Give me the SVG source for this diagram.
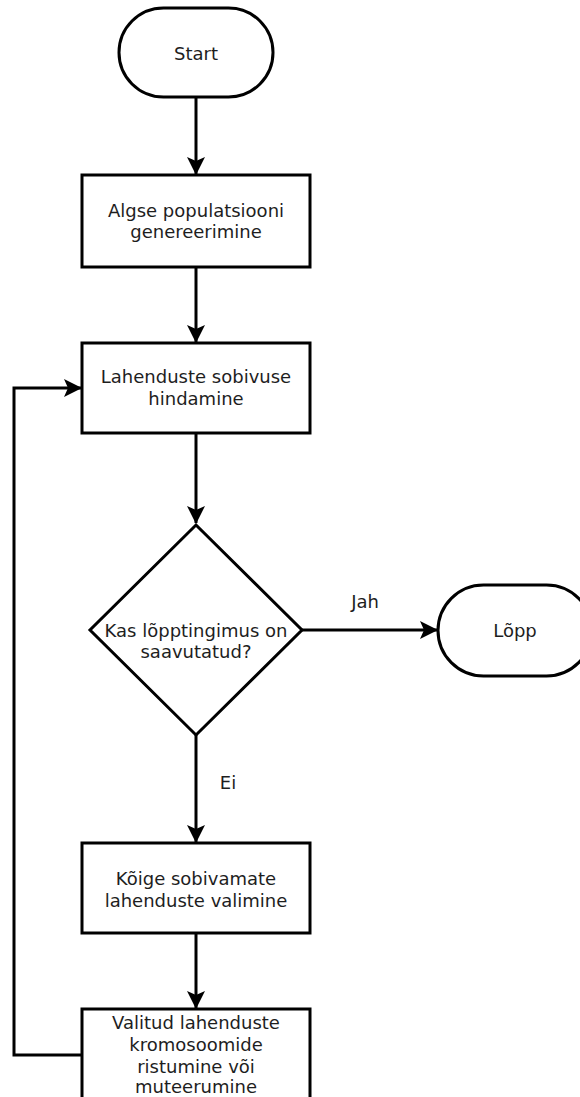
<svg xmlns="http://www.w3.org/2000/svg" width="580" height="1097" viewBox="0 0 580 1097">
  <style>
    .shape { fill: #ffffff; stroke: #000000; stroke-width: 3; }
    .edge { fill: none; stroke: #000000; stroke-width: 3; }
    text { font-family: "DejaVu Sans", Verdana, sans-serif; font-size: 18px; fill: #1e1e1e; text-anchor: middle; }
  </style>
  <defs>
    <marker id="arrow" viewBox="0 0 18 18" refX="17" refY="9" markerWidth="18" markerHeight="18" markerUnits="userSpaceOnUse" orient="auto">
      <path d="M0,0 L18,9 L0,18 L4,9 Z" fill="#000000"/>
    </marker>
  </defs>
  <rect width="580" height="1097" fill="#ffffff"/>

  <g id="connectors">
    <path class="edge" d="M196,97 V174" marker-end="url(#arrow)"/>
    <path class="edge" d="M196,267 V342" marker-end="url(#arrow)"/>
    <path class="edge" d="M196,433 V523" marker-end="url(#arrow)"/>
    <path class="edge" d="M302,630 H437" marker-end="url(#arrow)"/>
    <path class="edge" d="M196,735 V842" marker-end="url(#arrow)"/>
    <path class="edge" d="M196,933 V1008" marker-end="url(#arrow)"/>
    <path class="edge" d="M82,1055 H14 V388 H81" marker-end="url(#arrow)"/>
    <text x="365" y="608">Jah</text>
    <text x="228" y="789">Ei</text>
  </g>

  <g id="start">
    <rect class="shape" x="119" y="8" width="154" height="89" rx="44.5"/>
    <text x="196" y="60">Start</text>
  </g>

  <g id="init">
    <rect class="shape" x="82" y="175" width="228" height="92"/>
    <text x="196" y="217">Algse populatsiooni</text>
    <text x="196" y="238">genereerimine</text>
  </g>

  <g id="fitness">
    <rect class="shape" x="82" y="343" width="228" height="90"/>
    <text x="196" y="383">Lahenduste sobivuse</text>
    <text x="196" y="405">hindamine</text>
  </g>

  <g id="decision">
    <polygon class="shape" points="196,525 302,630 196,735 90,630"/>
    <text x="196" y="637">Kas lõpptingimus on</text>
    <text x="196" y="658">saavutatud?</text>
  </g>

  <g id="end">
    <rect class="shape" x="438" y="585" width="154" height="91" rx="45.5"/>
    <text x="515" y="637">Lõpp</text>
  </g>

  <g id="select">
    <rect class="shape" x="82" y="843" width="228" height="90"/>
    <text x="196" y="885">Kõige sobivamate</text>
    <text x="196" y="907">lahenduste valimine</text>
  </g>

  <g id="crossover">
    <rect class="shape" x="82" y="1009" width="228" height="100"/>
    <text x="196" y="1029">Valitud lahenduste</text>
    <text x="196" y="1051">kromosoomide</text>
    <text x="196" y="1073">ristumine või</text>
    <text x="196" y="1093">muteerumine</text>
  </g>
</svg>
